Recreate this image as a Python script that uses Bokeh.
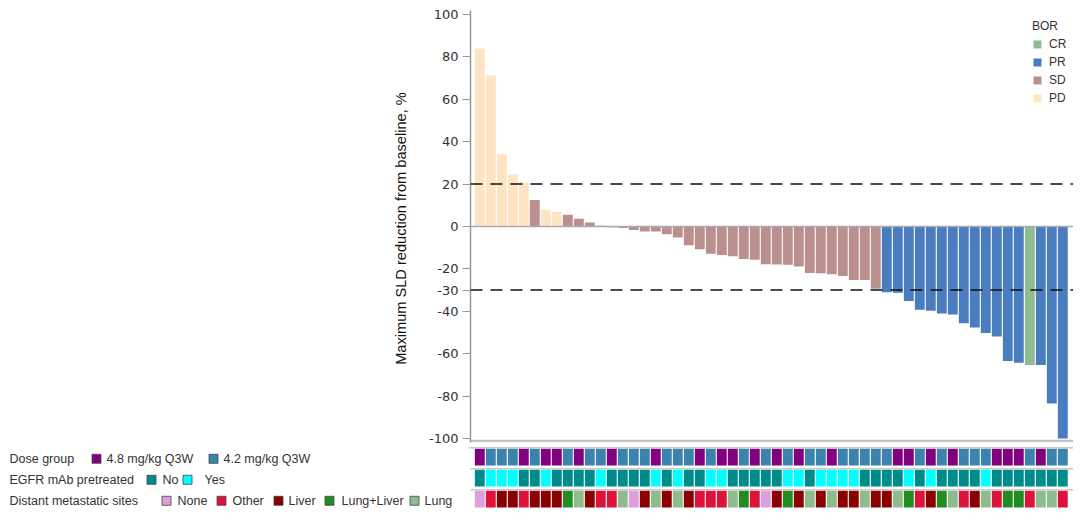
from bokeh.plotting import figure
from bokeh.models import Range1d, Span, FixedTicker, Legend, LegendItem, ColumnDataSource
from bokeh.layouts import column, row
from bokeh.embed import file_html
from bokeh.resources import INLINE
from bokeh.core.properties import value

# ---------------- data ----------------
values = [84.0, 71.3, 34.2, 24.6, 20.8, 12.5, 7.9, 6.9, 5.6, 3.7,
          1.9, 0.3, -0.3, -0.7, -1.6, -2.3, -2.4, -3.6, -5.2, -8.8,
          -10.7, -12.9, -13.4, -14.0, -15.3, -15.7, -17.8, -17.9, -18.1, -18.9,
          -21.9, -22.0, -22.5, -23.4, -25.2, -25.2, -29.4, -31.0, -31.3, -35.2,
          -39.3, -39.8, -41.0, -41.5, -45.6, -47.6, -50.3, -51.9, -63.5, -64.3,
          -65.3, -65.3, -83.5, -100.0]

bor = ["PD", "PD", "PD", "PD", "PD", "SD", "PD", "PD", "SD", "SD",
       "SD", "SD", "SD", "SD", "SD", "SD", "SD", "SD", "SD", "SD",
       "SD", "SD", "SD", "SD", "SD", "SD", "SD", "SD", "SD", "SD",
       "SD", "SD", "SD", "SD", "SD", "SD", "SD", "PR", "PR", "PR",
       "PR", "PR", "PR", "PR", "PR", "PR", "PR", "PR", "PR", "PR",
       "CR", "PR", "PR", "PR"]

dose = ["4.8", "4.2", "4.2", "4.2", "4.8", "4.2", "4.8", "4.8", "4.2", "4.8",
        "4.2", "4.2", "4.8", "4.2", "4.2", "4.2", "4.8", "4.2",
        "4.2", "4.2", "4.8", "4.2", "4.8", "4.8", "4.2", "4.8", "4.2", "4.8",
        "4.2", "4.8", "4.2", "4.2", "4.8", "4.2", "4.2", "4.2",
        "4.2", "4.2", "4.8", "4.8", "4.2", "4.8", "4.2", "4.8", "4.2", "4.2",
        "4.2", "4.8", "4.8", "4.8", "4.2", "4.8", "4.2", "4.2"]

egfr = ["No", "Yes", "Yes", "Yes", "No", "No", "Yes", "No", "No", "No",
        "No", "Yes", "No", "No", "No", "No", "Yes", "No",
        "Yes", "No", "No", "Yes", "Yes", "No", "No", "No", "No", "No",
        "Yes", "Yes", "No", "Yes", "Yes", "Yes", "Yes", "No",
        "No", "No", "No", "Yes", "No", "Yes", "No", "No", "No", "No",
        "Yes", "No", "No", "No", "No", "No", "No", "No"]

meta = ["None", "Other", "Liver", "Liver", "Other", "Liver", "Liver", "Liver", "Lung+Liver", "Lung",
        "Liver", "Other", "Other", "Lung", "None", "Liver", "Lung", "Liver",
        "Lung", "Liver", "Other", "Other", "Other", "Lung", "Lung+Liver", "Other", "None", "Liver",
        "Lung+Liver", "Liver", "Lung", "Liver", "Lung", "Liver", "Liver", "Lung",
        "Liver", "Liver", "Lung", "Lung+Liver", "Other", "Liver", "Lung+Liver", "Lung", "Other", "Liver",
        "Lung", "Other", "Lung+Liver", "Lung+Liver", "Other", "Lung", "Lung", "Other"]

bor_order = ["CR", "PR", "SD", "PD"]
dose_levels = ["4.8", "4.2"]
dose_labels = ["4.8 mg/kg Q3W", "4.2 mg/kg Q3W"]
egfr_levels = ["No", "Yes"]
meta_levels = ["None", "Other", "Liver", "Lung+Liver", "Lung"]
track_titles = ["Dose group", "EGFR mAb pretreated", "Distant metastatic sites"]
y_ticks = [100, 80, 60, 40, 20, 0, -20, -30, -40, -60, -80, -100]
thresholds = [20, -30]

# ---------------- styles ----------------
bor_colors = {"CR": "#8FBC8F", "PR": "#4A7DC0", "SD": "#BC8F8F", "PD": "#FFE4C4"}
dose_colors = {"4.8": "#800080", "4.2": "#3B83AD"}
egfr_colors = {"No": "#008B8B", "Yes": "#00FFFF"}
meta_colors = {"None": "#DDA0DD", "Other": "#DC143C", "Liver": "#8B0000",
               "Lung+Liver": "#228B22", "Lung": "#8FBC8F"}

n = len(values)
xs = list(range(n))
W = 1073
LEFT = 470
PXU = 11.0
X0 = -0.845
XEND = X0 + (W - LEFT) / PXU
FONT = "Liberation Sans"

# ---------------- main waterfall ----------------
p = figure(width=W, height=446, x_range=Range1d(X0, XEND), y_range=Range1d(-101.9, 101.9),
           x_axis_location=None, toolbar_location=None, output_backend="svg",
           min_border_left=LEFT, min_border_right=0, min_border_top=10, min_border_bottom=4)
p.grid.visible = False
p.outline_line_color = None

src = ColumnDataSource(dict(x=xs, v=values, bor=bor, color=[bor_colors[b] for b in bor]))
bars = p.vbar(x="x", top="v", bottom=0, width=0.9, fill_color="color", line_color=None, source=src)

p.add_layout(Span(location=0, dimension="width", line_color="#AAAAAA", line_width=1.5))
p.add_layout(Span(location=-100.9, dimension="width", line_color="#BBBBBB", line_width=1.2))
p.add_layout(Span(location=-101.6, dimension="width", line_color="#BBBBBB", line_width=1.0))
for t in thresholds:
    p.add_layout(Span(location=t, dimension="width", line_color="#111111", line_width=1.5, line_dash="12 8"))

ax = p.yaxis[0]
ax.ticker = FixedTicker(ticks=y_ticks)
ax.major_label_overrides = {t: str(t) for t in y_ticks}
ax.axis_line_color = "#999999"
ax.axis_line_width = 1.5
ax.major_tick_line_color = "#999999"
ax.major_tick_line_width = 1.2
ax.major_tick_out = 8
ax.major_tick_in = 0
ax.minor_tick_out = 0
ax.minor_tick_in = 0
ax.major_label_standoff = 4
ax.major_label_text_font = "DejaVu Sans"
ax.major_label_text_font_size = "13px"
ax.major_label_text_color = "#333333"
ax.axis_label = "Maximum SLD reduction from baseline,  %"
ax.axis_label_text_font = FONT
ax.axis_label_text_font_size = "14.6px"
ax.axis_label_text_font_style = "normal"
ax.axis_label_text_color = "#111111"
ax.axis_label_standoff = 17

items = [LegendItem(label=b, renderers=[bars], index=bor.index(b)) for b in bor_order]
legend = Legend(items=items, location=(562, 335), title="BOR",
                title_text_font=FONT, title_text_font_size="12px", title_text_font_style="normal",
                title_text_color="#333333", title_standoff=2,
                label_text_font=FONT, label_text_font_size="12px", label_text_color="#333333",
                glyph_width=10, glyph_height=10, label_height=18, label_standoff=7, spacing=0,
                padding=4, margin=0, border_line_color=None, background_fill_alpha=0)
p.add_layout(legend)

# ---------------- annotation tracks ----------------
BH = 64
YR = (-2.543, 0.505)
q = figure(width=W - LEFT, height=BH, x_range=p.x_range, y_range=Range1d(*YR),
           x_axis_location=None, y_axis_location=None, toolbar_location=None, output_backend="svg",
           min_border_left=0, min_border_right=0, min_border_top=0, min_border_bottom=0)
q.grid.visible = False
q.outline_line_color = None

# key panel to the left of the tracks (x in screen pixels)
k = figure(width=LEFT, height=BH, x_range=Range1d(0, LEFT), y_range=Range1d(*YR),
           x_axis_location=None, y_axis_location=None, toolbar_location=None, output_backend="svg",
           min_border_left=0, min_border_right=0, min_border_top=0, min_border_bottom=0)
k.grid.visible = False
k.outline_line_color = None

tracks = [
    (dose, dose_levels, dose_labels, dose_colors),
    (egfr, egfr_levels, egfr_levels, egfr_colors),
    (meta, meta_levels, meta_levels, meta_colors),
]
sq_x = [[96, 213], [151, 187], [166, 221, 278, 329, 414]]
lab_x = [[106, 223], [162, 204], [177, 232, 288, 341, 424]]

tx, ty, tt = [], [], []
sx, sy, sc = [], [], []
for r, (vals, levels, labels, cmap) in enumerate(tracks):
    tsrc = ColumnDataSource(dict(x=xs, y=[-r] * n, v=vals, color=[cmap[v] for v in vals]))
    q.rect(x="x", y="y", width=0.9, height=0.795, fill_color="color", line_color=None, source=tsrc)
    q.segment(x0=[X0 - 0.5], x1=[XEND], y0=[-r + 0.443], y1=[-r + 0.443],
              line_color="#BBBBBB", line_width=1.2)
    yy = -r - 0.08
    tx.append(9); ty.append(yy); tt.append(track_titles[r])
    for lev, lab, a, b in zip(levels, labels, sq_x[r], lab_x[r]):
        sx.append(a); sy.append(yy); sc.append(cmap[lev])
        tx.append(b); ty.append(yy); tt.append(lab)

k.segment(x0=[468], x1=[LEFT], y0=[0.443], y1=[0.443], line_color="#BBBBBB", line_width=1.2)
k.scatter(x=sx, y=sy, marker="square", size=9, fill_color=sc, line_color="#444444", line_width=0.8)
k.text(x=tx, y=ty, text=tt, text_font=value(FONT), text_font_size="12.5px", text_color="#333333",
       text_baseline="middle", text_align="left")

layout = column(p, row(k, q, spacing=0), spacing=0)
open("out.html", "w").write(file_html(layout, INLINE))
